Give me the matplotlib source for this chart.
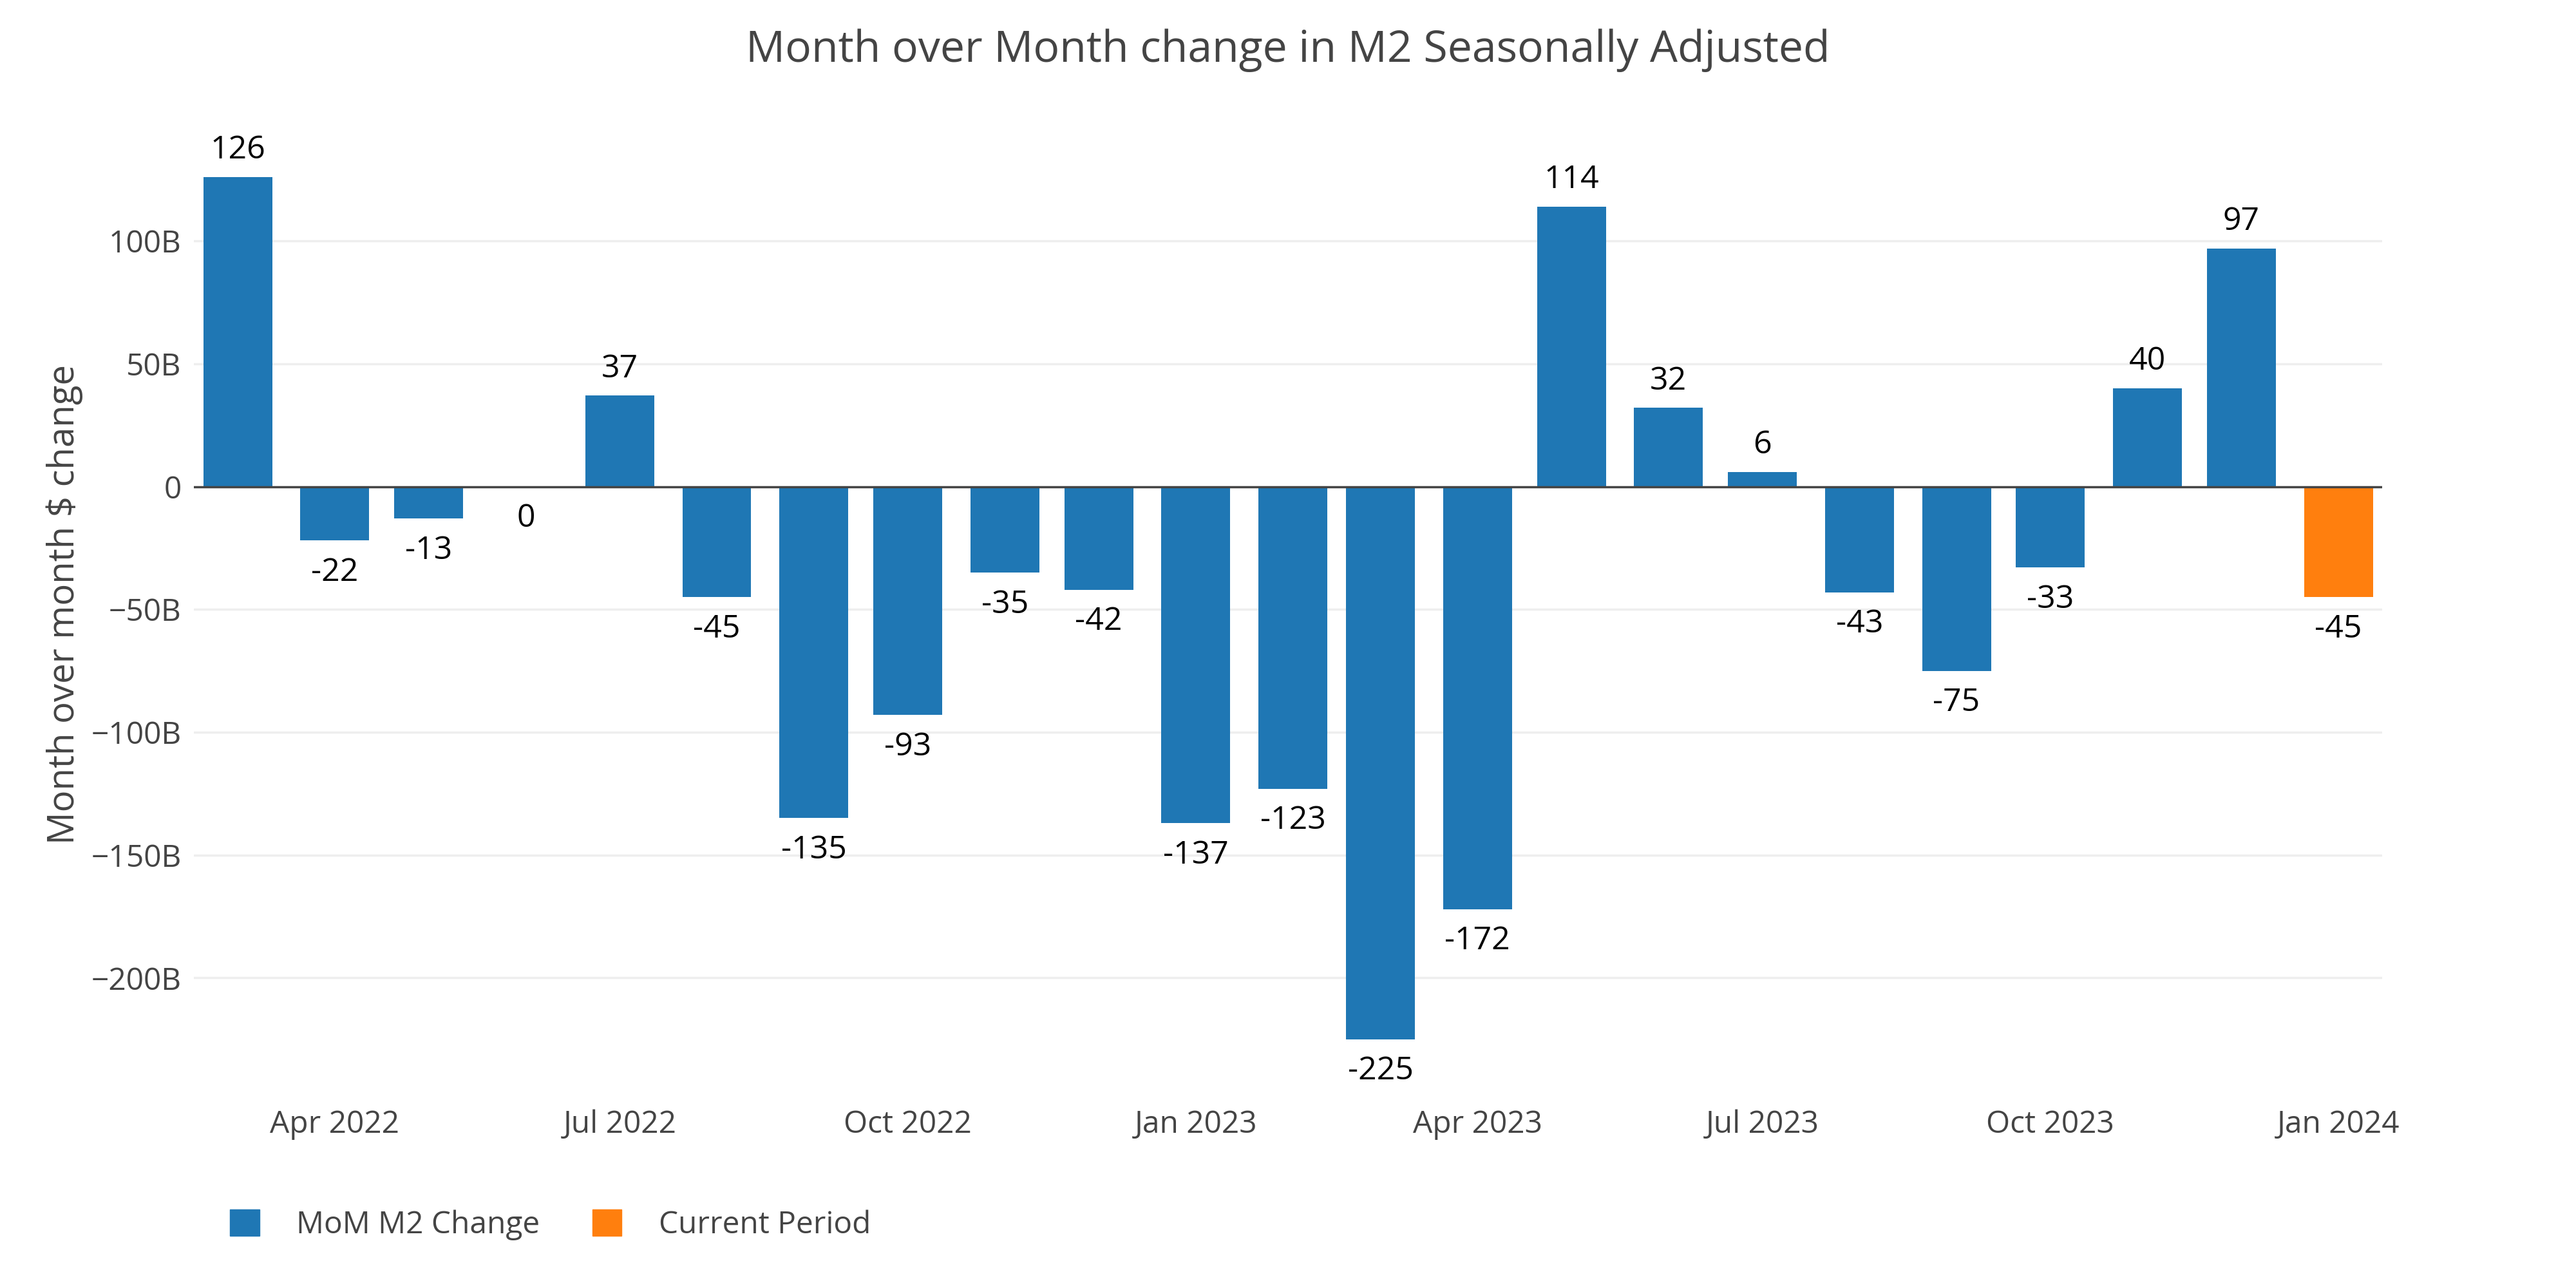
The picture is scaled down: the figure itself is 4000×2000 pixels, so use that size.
import matplotlib
matplotlib.use("Agg")
import matplotlib.pyplot as plt
import matplotlib.dates as mdates
from matplotlib.patches import Patch
import pandas as pd

plt.rcParams['font.family'] = ['Open Sans', 'DejaVu Sans']

# data, values in $ billions
months = pd.date_range("2022-03-01", "2024-01-01", freq="MS")
mom_change = [126, -22, -13, 0, 37, -45, -135, -93, -35, -42, -137, -123,
              -225, -172, 114, 32, 6, -43, -75, -33, 40, 97, -45]
series_names = ["MoM M2 Change", "Current Period"]
yticks = [-200, -150, -100, -50, 0, 50, 100]
ytick_labels = ["\u2212200B", "\u2212150B", "\u2212100B", "\u221250B", "0", "50B", "100B"]

BLUE = "#1f77b4"
ORANGE = "#ff7f0e"
GREY = "#444444"

fig = plt.figure(figsize=(40, 20), dpi=100)
ax = fig.add_axes([0.0753, 0.1493, 0.8495, 0.7628])

colors = [BLUE] * (len(months) - 1) + [ORANGE]
ax.bar(months, mom_change, width=22, color=colors, zorder=2)

# value labels outside bars
for d, v in zip(months, mom_change):
    if v > 0:
        ax.annotate(str(v), (d, v), xytext=(0, 12), textcoords="offset points",
                    ha="center", va="bottom", fontsize=36, color="black")
    else:
        ax.annotate(str(v), (d, v), xytext=(0, -18), textcoords="offset points",
                    ha="center", va="top", fontsize=36, color="black")

ax.axhline(0, color=GREY, lw=2.5, zorder=3)

ax.set_xlim(pd.Timestamp("2022-02-15"), pd.Timestamp("2024-01-15"))
ax.set_ylim(-248, 152)
ax.set_yticks(yticks)
ax.set_yticklabels(ytick_labels)
ax.xaxis.set_major_locator(mdates.MonthLocator(bymonth=[1, 4, 7, 10]))
ax.xaxis.set_major_formatter(mdates.DateFormatter("%b %Y"))

ax.grid(True, axis="y", color="#eeeeee", lw=2.5, zorder=0)
ax.tick_params(axis="both", length=0, labelsize=34.5, colors=GREY)
ax.tick_params(axis="x", pad=15)
ax.tick_params(axis="y", pad=14)
for s in ax.spines.values():
    s.set_visible(False)

ax.set_ylabel("Month over month $ change", fontsize=40.5, color=GREY, labelpad=9)
fig.suptitle("Month over Month change in M2 Seasonally Adjusted", fontsize=49,
             color=GREY, x=0.5, y=0.961, va="center")

handles = [Patch(color=BLUE, label=series_names[0]),
           Patch(color=ORANGE, label=series_names[1])]
fig.legend(handles=handles, loc="center left", bbox_to_anchor=(0.0893, 0.049),
           ncol=2, frameon=False, fontsize=34.5, handlelength=0.95, handleheight=0.95,
           handletextpad=1.2, columnspacing=1.7, borderpad=0, borderaxespad=0,
           labelcolor=GREY)

plt.savefig("out.png", dpi=100)
